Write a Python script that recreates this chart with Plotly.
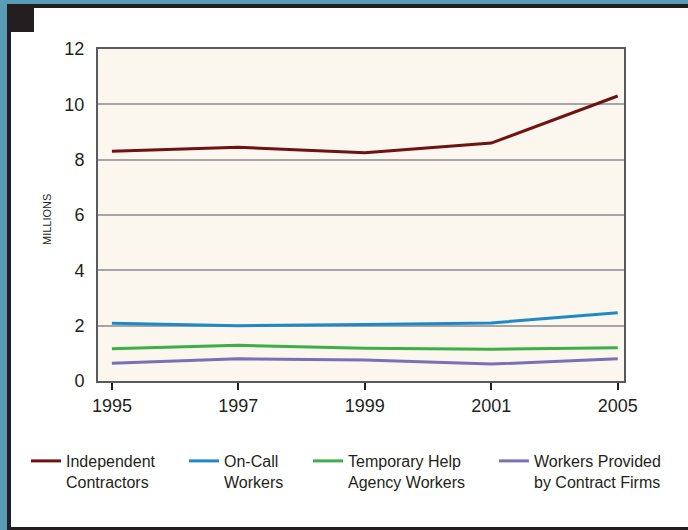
import plotly.graph_objects as go

years = ["1995", "1997", "1999", "2001", "2005"]
independent = [8.3, 8.45, 8.25, 8.6, 10.3]
on_call = [2.09, 2.0, 2.04, 2.1, 2.47]
temp_help = [1.17, 1.29, 1.18, 1.15, 1.2]
contract_firms = [0.64, 0.8, 0.76, 0.61, 0.8]

series_names = ["Independent<br>Contractors", "On-Call<br>Workers",
                "Temporary Help<br>Agency Workers", "Workers Provided<br>by Contract Firms"]
series_values = [independent, on_call, temp_help, contract_firms]
series_colors = ["#6E1214", "#1E88C8", "#3DAE49", "#7B6FB8"]

W, H = 688, 530
L, R, T, B = 98, 624, 49, 381

def px(x):
    return (x - L) / (R - L)

def py(y):
    return (B - y) / (B - T)

fig = go.Figure()
legend_x = [26, 184, 308, 494]
for i, (name, vals, col) in enumerate(zip(series_names, series_values, series_colors)):
    lg = "legend" if i == 0 else f"legend{i+1}"
    fig.add_trace(go.Scatter(x=years, y=vals, mode="lines", name=name,
                             line=dict(color=col, width=3), legend=lg))

font = "Liberation Sans, Arial, sans-serif"
legend_common = dict(font=dict(family=font, size=16, color="#231F20"),
                     bgcolor="rgba(0,0,0,0)", xanchor="left", yanchor="top",
                     itemwidth=30, tracegroupgap=0, valign="top")
layout_legends = {}
for i, lx in enumerate(legend_x):
    key = "legend" if i == 0 else f"legend{i+1}"
    layout_legends[key] = dict(x=px(lx), y=py(444), **legend_common)

shapes = []
dark = "#231F20"
blue = "#5A9BB6"
def rect(x0, y0, x1, y1, color):
    shapes.append(dict(type="rect", xref="paper", yref="paper",
                       x0=px(x0), x1=px(x1), y0=py(y1), y1=py(y0),
                       fillcolor=color, line=dict(width=0), layer="below"))
rect(0, 0, 7, H, blue)
rect(0, 0, W, 4, blue)
rect(7, 4, W, 8, dark)
rect(7, 4, 11, H, dark)
rect(7, 527, W, H, dark)
rect(7, 4, 34, 32, dark)

fig.update_layout(
    width=W, height=H,
    margin=dict(l=L, r=W - R, t=T, b=H - B),
    paper_bgcolor="white",
    plot_bgcolor="#FBF6EE",
    showlegend=True,
    shapes=shapes,
    font=dict(family=font, color="#231F20"),
    annotations=[dict(text="MILLIONS", textangle=-90, xref="paper", yref="paper",
                      x=px(47), y=py(220), showarrow=False,
                      font=dict(family=font, size=11, color="#231F20"),
                      xanchor="center", yanchor="middle")],
    **layout_legends,
)

fig.update_xaxes(type="category", range=[-0.11, 4.05], showgrid=False,
                 showline=True, linecolor="#5A5A5A", linewidth=2, mirror=True,
                 ticks="outside", ticklen=7, tickwidth=1.5, tickcolor="#231F20",
                 tickfont=dict(size=18, family=font, color="#231F20"))
fig.update_yaxes(range=[0, 12], dtick=2, showgrid=True, gridcolor="#A5A5A5", gridwidth=2,
                 showline=True, linecolor="#5A5A5A", linewidth=2, mirror=True,
                 zeroline=False, ticks="", ticklabelstandoff=8,
                 tickfont=dict(size=18, family=font, color="#231F20"))

fig.write_html("out.html", config={"displayModeBar": False},
               post_script="document.body.style.margin='0';document.body.style.overflow='hidden';")
